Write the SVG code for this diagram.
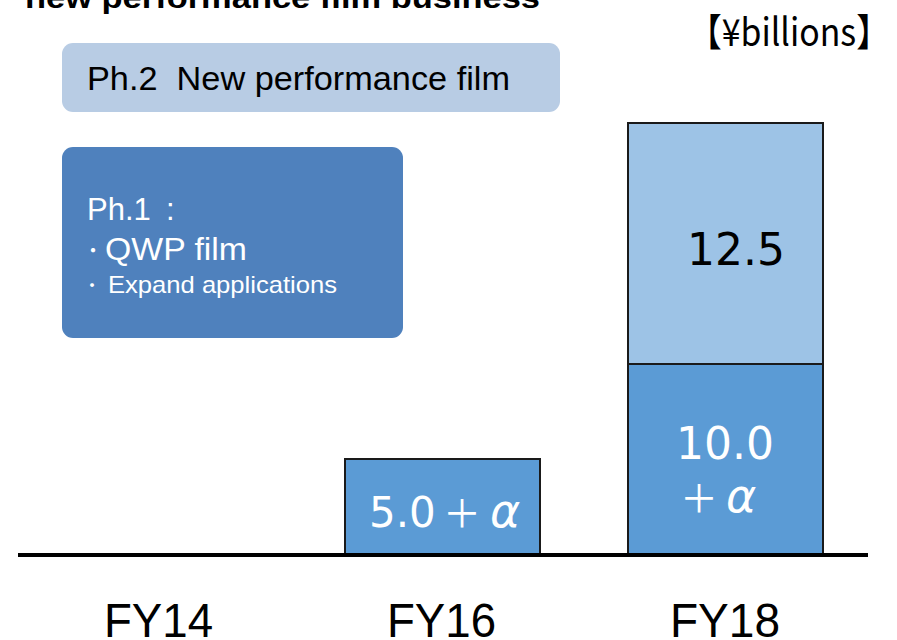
<svg xmlns="http://www.w3.org/2000/svg" width="897" height="640" viewBox="0 0 897 640">
  <style>
    .sans { font-family: "Liberation Sans", Arial, "Noto Sans CJK JP", sans-serif; }
    .num { font-family: "DejaVu Sans", Verdana, "Noto Sans CJK JP", sans-serif; }
    .cjk { font-family: "Noto Sans CJK JP", "Liberation Sans", sans-serif; }
    .bar { stroke: #1a1a1a; stroke-width: 2; }
    .dark { fill: #5B9BD5; }
    .light { fill: #9DC3E6; }
  </style>
  <rect width="897" height="640" fill="#ffffff"/>

  <!-- title, clipped by the top edge -->
  <text class="sans" x="25" y="8" font-size="29" font-weight="bold" fill="#000" textLength="515" lengthAdjust="spacingAndGlyphs">new performance film business</text>

  <!-- unit -->
  <text class="cjk" x="688" y="46" font-size="38" fill="#000" textLength="202" lengthAdjust="spacingAndGlyphs">【¥billions】</text>

  <!-- phase 2 label -->
  <g id="phase2">
    <rect x="62" y="43" width="498" height="69" rx="11" fill="#B8CCE4"/>
    <text class="sans" x="87" y="90" font-size="33" fill="#000" textLength="423" lengthAdjust="spacingAndGlyphs" xml:space="preserve">Ph.2  New performance film</text>
  </g>

  <!-- phase 1 label -->
  <g id="phase1">
    <rect x="62" y="147" width="341" height="191" rx="11" fill="#4F81BD"/>
    <text class="sans" x="87" y="220" font-size="31" fill="#fff">Ph.1</text>
    <text class="sans" x="166" y="220" font-size="31" fill="#fff">:</text>
    <text class="cjk" x="83" y="258" font-size="20" fill="#fff">・</text>
    <text class="sans" x="105" y="260" font-size="31" fill="#fff" textLength="142" lengthAdjust="spacingAndGlyphs">QWP film</text>
    <text class="cjk" x="83" y="292" font-size="18" fill="#fff">・</text>
    <text class="sans" x="108" y="293" font-size="24" fill="#fff" textLength="229" lengthAdjust="spacingAndGlyphs">Expand applications</text>
  </g>

  <!-- FY16 bar -->
  <g id="bar-fy16">
    <rect class="bar dark" x="345" y="459" width="195" height="96"/>
    <text class="num" x="369" y="527" font-size="42" fill="#fff">5.0</text>
    <text class="cjk" x="443" y="527" font-size="38" fill="#fff">＋</text>
    <text class="num" x="490" y="527" font-size="46" font-style="italic" fill="#fff">α</text>
  </g>

  <!-- FY18 stacked bar -->
  <g id="bar-fy18">
    <rect class="bar light" x="628" y="123" width="195" height="241"/>
    <rect class="bar dark" x="628" y="364" width="195" height="191"/>
    <text class="num" x="687" y="265" font-size="44" fill="#000">12.5</text>
    <text class="num" x="676" y="459" font-size="44" fill="#fff">10.0</text>
    <text class="cjk" x="680" y="512" font-size="38" fill="#fff">＋</text>
    <text class="num" x="726" y="512" font-size="46" font-style="italic" fill="#fff">α</text>
  </g>

  <!-- baseline axis -->
  <g id="axis">
    <line x1="18" y1="555" x2="868" y2="555" stroke="#000" stroke-width="4"/>
  </g>

  <!-- category labels -->
  <g id="categories" class="sans" font-size="48" fill="#000">
    <text x="104" y="637" textLength="109" lengthAdjust="spacingAndGlyphs">FY14</text>
    <text x="387" y="637" textLength="109" lengthAdjust="spacingAndGlyphs">FY16</text>
    <text x="670" y="637" textLength="110" lengthAdjust="spacingAndGlyphs">FY18</text>
  </g>
</svg>
